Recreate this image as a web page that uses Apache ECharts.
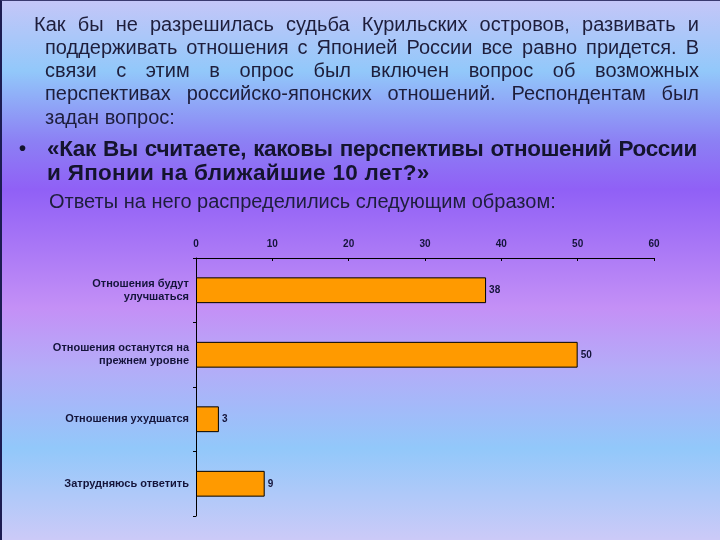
<!DOCTYPE html>
<html>
<head>
<meta charset="utf-8">
<script src="https://cdn.jsdelivr.net/npm/echarts@6/dist/echarts.min.js"></script>
<style>
	html, body { margin: 0; padding: 0; }
	#slide {
		position: relative; width: 720px; height: 540px; overflow: hidden;
		box-sizing: border-box; border-left: 2px solid #1c1c52; border-top: 1px solid #3a3a70;
		background: linear-gradient(to bottom, #c4c6f8 0%, #92c8fa 13%, #8c80f4 26%, #9060f6 35%, #c490f6 57%, #b4acf8 68%, #92c8fa 83%, #cccaf8 100%);
		font-family: "Liberation Sans", Arial, sans-serif; color: #1e1e3c;
	}
	.ln { position: absolute; white-space: nowrap; font-size: 20px; line-height: 23px; }
	.j { text-align: justify; text-align-last: justify; }
	.b { font-weight: bold; font-size: 22.5px; line-height: 24px; color: #14142e; }
	#chart { position: absolute; left: 0; top: 0; width: 720px; height: 540px; }
</style>
</head>
<body>
<div id="slide">
	<div id="chart"></div>
	<div class="ln j" style="left:32px;width:665px;top:12px">Как бы не разрешилась судьба Курильских островов, развивать и</div>
	<div class="ln j" style="left:43px;width:654px;top:35px">поддерживать отношения с Японией России все равно придется. В</div>
	<div class="ln j" style="left:43px;width:654px;top:58px">связи с этим в опрос был включен вопрос об возможных</div>
	<div class="ln j" style="left:43px;width:654px;top:81px">перспективах российско-японских отношений. Респондентам был</div>
	<div class="ln" style="left:43px;top:105px">задан вопрос:</div>
	<div class="ln b" style="left:17px;top:135px;font-size:20px">•</div>
	<div class="ln b j" style="left:45px;width:650px;top:136px;letter-spacing:-0.35px;word-spacing:-1px">«Как Вы считаете, каковы перспективы отношений России</div>
	<div class="ln b" style="left:45px;top:160px;letter-spacing:0.3px">и Японии на ближайшие 10 лет?»</div>
	<div class="ln" style="left:47px;top:189px">Ответы на него распределились следующим образом:</div>
</div>
<script>
	'use strict';
	var categories = ['Отношения будут\nулучшаться', 'Отношения останутся на\nпрежнем уровне', 'Отношения ухудшатся', 'Затрудняюсь ответить'];
	var values = [38, 50, 3, 9];
	var ticks = [0, 10, 20, 30, 40, 50, 60];

	var chart = echarts.init(document.getElementById('chart'));
	chart.setOption({
		animation: false,
		grid: { left: 194, right: 68, top: 257, bottom: 25 },
		xAxis: {
			type: 'value', position: 'top',
			min: ticks[0], max: ticks[ticks.length - 1], interval: 10,
			axisLine: { show: true, lineStyle: { color: '#000', width: 1 } },
			axisTick: { show: true, length: 3, inside: true, lineStyle: { color: '#000' } },
			splitLine: { show: false },
			axisLabel: { margin: 9, color: '#14143a', fontSize: 10, fontWeight: 'bold', fontFamily: 'Liberation Sans' }
		},
		yAxis: {
			type: 'category', inverse: true, data: categories,
			axisLine: { show: true, lineStyle: { color: '#000', width: 1 } },
			axisTick: { show: true, length: 3, lineStyle: { color: '#000' } },
			axisLabel: { margin: 7, color: '#14143a', fontSize: 11, fontWeight: 'bold', lineHeight: 13, align: 'right', fontFamily: 'Liberation Sans' }
		},
		series: [{
			type: 'bar', data: values, barCategoryGap: '60%',
			itemStyle: { color: '#ff9a00', borderColor: '#000', borderWidth: 1 },
			label: { show: true, position: 'right', distance: 3, color: '#14143a', fontSize: 10, fontWeight: 'bold', fontFamily: 'Liberation Sans' }
		}]
	});
</script>
</body>
</html>
